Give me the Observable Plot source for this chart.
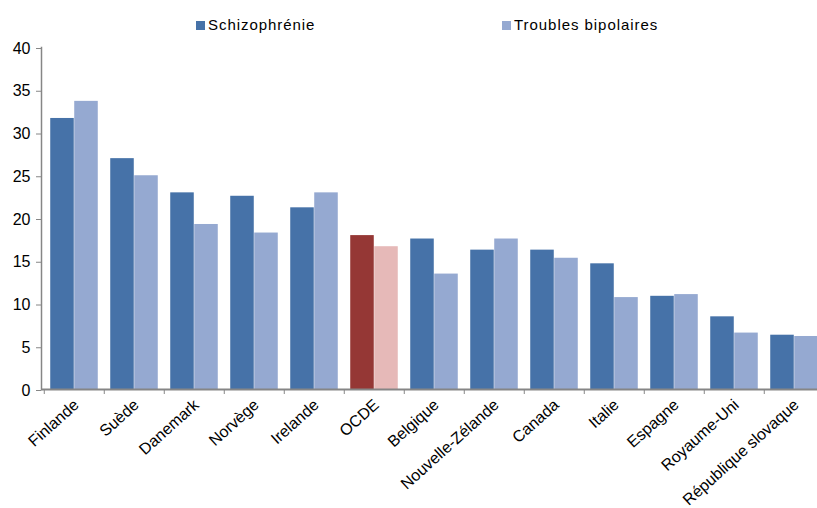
<!DOCTYPE html>
<html><head><meta charset="utf-8">
<script src="https://cdn.jsdelivr.net/npm/d3@7"></script>
<script src="https://cdn.jsdelivr.net/npm/@observablehq/plot@0.6"></script>
<style>
body{margin:0;background:#fff;font-family:"Liberation Sans",Arial,sans-serif;}
#wrap{position:relative;width:817px;height:508px;overflow:hidden;background:#fff;}
#legend{position:relative;height:36px;}
.item{position:absolute;top:17px;font-size:15px;line-height:16px;letter-spacing:0.95px;color:#000;display:flex;align-items:center;white-space:nowrap;}
.sw{width:9px;height:9px;margin-right:3px;}
#chart svg{max-width:none !important;display:block;}
</style></head><body>
<div id="wrap"><div id="legend"></div><div id="chart"></div></div>
<script>
const countries = ["Finlande","Suède","Danemark","Norvège","Irelande","OCDE","Belgique","Nouvelle-Zélande","Canada","Italie","Espagne","Royaume-Uni","République slovaque"];
const schizophrenie = [31.7,27.0,23.0,22.6,21.25,18.0,17.6,16.3,16.3,14.7,10.9,8.5,6.35];
const bipolaires = [33.7,25.0,19.3,18.3,23.0,16.7,13.5,17.6,15.35,10.75,11.1,6.6,6.2];
const seriesNames = ["Schizophrénie","Troubles bipolaires"];
const yTicks = [0,5,10,15,20,25,30,35,40];
const colorKeys = ["Schizophrénie","Troubles bipolaires","OCDE Schizophrénie","OCDE Troubles bipolaires"];
const colorRange = ["#4672A8","#95A9D1","#953735","#E6B9B8"];

const rows = [];
countries.forEach((c, i) => {
  [schizophrenie[i], bipolaires[i]].forEach((v, j) => {
    const s = seriesNames[j];
    rows.push({country: c, series: s, value: v, key: c === "OCDE" ? "OCDE " + s : s});
  });
});

// legend
const legend = document.getElementById("legend");
const legendX = [196, 502];
seriesNames.forEach((s, j) => {
  const it = document.createElement("div");
  it.className = "item";
  it.style.left = legendX[j] + "px";
  it.innerHTML = `<span class="sw" style="background:${colorRange[j]}"></span>${s}`;
  legend.appendChild(it);
});

const W = 827, ML = 41, MR = 0;
const step = (W - ML - MR) / countries.length;
const barW = 24;
const inset = (step - barW) / 2;
const gray = "#868686";

const chart = Plot.plot({
  width: W, height: 472,
  marginLeft: ML, marginRight: MR, marginTop: 11, marginBottom: 119,
  x: {domain: countries, padding: 0},
  y: {domain: [0, 40]},
  color: {domain: colorKeys, range: colorRange},
  style: {fontFamily: "'Liberation Sans', Arial, sans-serif", fontSize: "16px", color: "#000", background: "#fff", maxWidth: "none"},
  marks: [
    Plot.barY(rows.filter(d => d.series === seriesNames[0]), {x: "country", y: "value", fill: "key", dx: -barW/2, insetLeft: inset, insetRight: inset}),
    Plot.barY(rows.filter(d => d.series === seriesNames[1]), {x: "country", y: "value", fill: "key", dx: barW/2, insetLeft: inset, insetRight: inset}),
    Plot.frame({anchor: "left", stroke: gray, strokeWidth: 1.5}),
    Plot.ruleY([0], {stroke: gray, strokeWidth: 2}),
    Plot.axisY({ticks: yTicks, tickSize: 5, tickPadding: 6, stroke: gray, label: null, dy: 1}),
    Plot.axisX({tickSize: 5, tickFormat: () => "", dx: -step/2, stroke: gray, label: null}),
    Plot.axisX({tickSize: 0, tickRotate: -42, tickPadding: 13, dx: 2, label: null, style: {letterSpacing: "0.3px"}})
  ]
});
document.getElementById("chart").appendChild(chart);
</script>
</body></html>
